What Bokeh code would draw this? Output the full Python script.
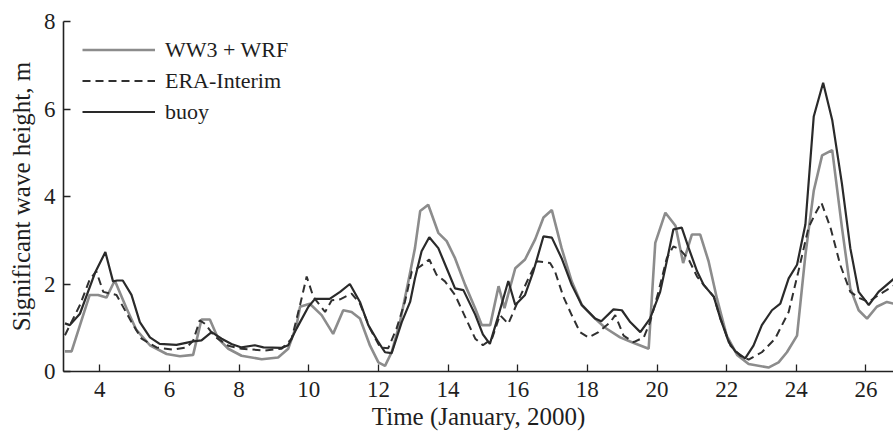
from bokeh.plotting import figure
from bokeh.models import Range1d, FixedTicker, Legend, LegendItem
from bokeh.embed import file_html
from bokeh.resources import INLINE

# ---- data (day of January 2000, significant wave height in m) ----
ww3_day = [3.0, 3.19, 3.71, 3.95, 4.19, 4.43, 4.77, 5.05, 5.44, 5.92, 6.3, 6.68, 6.92, 7.16, 7.4, 7.69,
           8.07, 8.65, 9.12, 9.41, 9.65, 9.75, 10.03, 10.37, 10.7, 10.99, 11.23, 11.47, 11.76, 12.0,
           12.19, 12.38, 12.62, 12.86, 13.05, 13.2, 13.43, 13.72, 13.96, 14.2, 14.49, 14.78, 14.97,
           15.21, 15.45, 15.62, 15.93, 16.21, 16.5, 16.74, 16.98, 17.26, 17.55, 17.84, 18.22, 18.51,
           18.94, 19.28, 19.76, 19.95, 20.24, 20.53, 20.75, 21.0, 21.24, 21.48, 21.72, 22.0, 22.3,
           22.63, 23.2, 23.49, 23.73, 24.02, 24.26, 24.5, 24.74, 25.03, 25.31, 25.55, 25.79, 26.03,
           26.31, 26.6, 26.8]
ww3_hs = [0.46, 0.46, 1.75, 1.75, 1.69, 2.08, 1.44, 0.95, 0.6, 0.4, 0.35, 0.38, 1.19, 1.19, 0.75, 0.52,
          0.36, 0.28, 0.32, 0.52, 1.06, 1.48, 1.55, 1.29, 0.86, 1.4, 1.36, 1.21, 0.59, 0.21,
          0.13, 0.44, 1.13, 2.06, 2.82, 3.67, 3.81, 3.17, 2.98, 2.59, 1.98, 1.44, 1.06,
          1.06, 1.95, 1.45, 2.36, 2.56, 3.02, 3.52, 3.69, 2.82, 2.06, 1.52, 1.21, 1.0,
          0.78, 0.67, 0.52, 2.94, 3.63, 3.33, 2.48, 3.13, 3.13, 2.52, 1.67, 0.82, 0.38,
          0.17, 0.09, 0.21, 0.44, 0.82, 2.66, 4.13, 4.94, 5.06, 3.29, 1.9, 1.4, 1.21,
          1.48, 1.59, 1.55]

era_day = [3.0, 3.43, 3.71, 3.9, 4.1, 4.48, 4.91, 5.2, 5.63, 6.1, 6.49, 6.68, 6.87, 7.02, 7.3, 7.69,
           8.07, 8.74, 9.22, 9.51, 9.75, 9.94, 10.13, 10.47, 10.66, 10.9, 11.23, 11.47, 11.76, 12.05,
           12.28, 12.52, 12.76, 12.96, 13.2, 13.46, 13.67, 13.91, 14.2, 14.49, 14.78, 15.0, 15.26,
           15.49, 15.73, 16.02, 16.31, 16.55, 16.93, 17.07, 17.31, 17.55, 17.79, 18.03, 18.32, 18.66,
           18.8, 19.04, 19.33, 19.62, 19.8, 20.04, 20.28, 20.47, 20.66, 20.91, 21.15, 21.34, 21.63,
           21.82, 22.11, 22.39, 22.63, 23.01, 23.39, 23.78, 24.06, 24.35, 24.54, 24.72, 24.98, 25.26,
           25.55, 25.83, 26.08, 26.36, 26.8]
era_hs = [0.83, 1.52, 2.1, 2.29, 1.82, 1.75, 1.13, 0.75, 0.55, 0.5, 0.55, 0.7, 1.17, 1.09, 0.8, 0.59,
          0.52, 0.48, 0.52, 0.75, 1.52, 2.17, 1.71, 1.36, 1.63, 1.65, 1.78, 1.55, 0.98, 0.55,
          0.53, 0.98, 1.59, 2.29, 2.4, 2.56, 2.21, 2.06, 1.75, 1.25, 0.75, 0.6, 0.75,
          1.29, 1.09, 1.63, 2.13, 2.52, 2.48, 2.29, 1.71, 1.29, 0.9, 0.78, 0.9, 1.13,
          1.29, 0.82, 0.67, 0.78, 1.13, 1.82, 2.59, 2.86, 2.79, 2.56, 2.17, 1.98, 1.71,
          1.21, 0.59, 0.36, 0.27, 0.44, 0.75, 1.36, 2.29, 3.29, 3.6, 3.86, 3.29, 2.44,
          1.82, 1.67, 1.59, 1.75, 1.96]

buoy_day = [3.0, 3.14, 3.43, 3.86, 4.16, 4.38, 4.5, 4.66, 4.91, 5.15, 5.44, 5.72, 6.2, 6.68, 6.92, 7.21,
            7.5, 7.78, 8.07, 8.45, 8.7, 9.22, 9.41, 9.65, 9.99, 10.18, 10.6, 10.9, 11.18, 11.47,
            11.71, 12.0, 12.19, 12.38, 12.67, 12.91, 13.05, 13.24, 13.46, 13.72, 13.96, 14.2, 14.44,
            14.78, 15.0, 15.2, 15.45, 15.73, 15.93, 16.21, 16.45, 16.74, 16.98, 17.26, 17.55, 17.84,
            18.22, 18.4, 18.75, 18.99, 19.23, 19.52, 19.8, 20.09, 20.28, 20.47, 20.71, 20.91, 21.15,
            21.34, 21.63, 21.82, 22.06, 22.25, 22.53, 22.77, 23.01, 23.3, 23.54, 23.78, 24.02, 24.26,
            24.5, 24.77, 25.03, 25.31, 25.55, 25.79, 26.08, 26.36, 26.8]
buoy_hs = [1.1, 1.06, 1.32, 2.25, 2.73, 2.06, 2.08, 2.08, 1.75, 1.13, 0.78, 0.63, 0.61, 0.69, 0.71, 0.9,
           0.75, 0.63, 0.55, 0.6, 0.55, 0.54, 0.6, 0.98, 1.48, 1.66, 1.66, 1.82, 2.0, 1.59,
           1.06, 0.67, 0.44, 0.42, 1.13, 1.59, 2.13, 2.75, 3.07, 2.82, 2.36, 1.9, 1.86,
           1.3, 0.85, 0.63, 1.29, 2.07, 1.52, 1.75, 2.29, 3.09, 3.06, 2.59, 1.98, 1.52,
           1.21, 1.15, 1.42, 1.4, 1.13, 0.9, 1.21, 1.82, 2.52, 3.25, 3.29, 2.82, 2.29,
           1.98, 1.71, 1.21, 0.67, 0.46, 0.3, 0.59, 1.06, 1.4, 1.55, 2.13, 2.44, 3.36,
           5.83, 6.6, 5.75, 4.29, 2.82, 1.82, 1.52, 1.82, 2.12]

x_ticks = [4, 6, 8, 10, 12, 14, 16, 18, 20, 22, 24, 26]
y_ticks = [0, 2, 4, 6, 8]
labels = ["WW3 + WRF", "ERA-Interim", "buoy"]

FONT = "Liberation Serif"
AX = "#222222"
TXT = "#1e1e1e"

p = figure(width=893, height=432, output_backend="svg", toolbar_location=None,
           x_range=Range1d(2.958, 26.79), y_range=Range1d(0, 8),
           min_border_left=63, min_border_right=0, min_border_top=21, min_border_bottom=61)
p.outline_line_color = None
p.xgrid.visible = False
p.ygrid.visible = False
p.background_fill_color = "white"
p.border_fill_color = "white"

l1 = p.line(ww3_day, ww3_hs, line_color="#8c8c8c", line_width=2.6)
l2 = p.line(era_day, era_hs, line_color="#303030", line_width=2.0, line_dash="8 5")
l3 = p.line(buoy_day, buoy_hs, line_color="#2a2a2a", line_width=2.2)

for ax in (p.xaxis[0], p.yaxis[0]):
    ax.axis_line_color = AX
    ax.axis_line_width = 1.6
    ax.major_tick_line_color = AX
    ax.major_tick_line_width = 1.3
    ax.major_tick_in = 7
    ax.major_tick_out = 0
    ax.minor_tick_line_color = None
    ax.major_label_text_font = FONT
    ax.major_label_text_font_size = "23px"
    ax.major_label_text_color = TXT
    ax.axis_label_text_font = FONT
    ax.axis_label_text_font_size = "25px"
    ax.axis_label_text_font_style = "normal"
    ax.axis_label_text_color = TXT

p.xaxis.ticker = FixedTicker(ticks=x_ticks)
p.yaxis.ticker = FixedTicker(ticks=y_ticks)
p.xaxis.major_label_standoff = 10
p.yaxis.major_label_standoff = 8
p.xaxis.axis_label = "Time (January, 2000)"
p.yaxis.axis_label = "Significant wave height, m"
p.xaxis.axis_label_standoff = 3
p.yaxis.axis_label_standoff = 6

legend = Legend(items=[LegendItem(label=labels[0], renderers=[l1]),
                       LegendItem(label=labels[1], renderers=[l2]),
                       LegendItem(label=labels[2], renderers=[l3])],
                location=(19, 244))
legend.border_line_color = None
legend.background_fill_alpha = 0
legend.label_text_font = FONT
legend.label_text_font_size = "22px"
legend.label_text_color = TXT
legend.glyph_width = 73
legend.glyph_height = 31
legend.label_height = 31
legend.label_standoff = 10
legend.spacing = 0
legend.margin = 0
legend.padding = 0
p.add_layout(legend)

open("out.html", "w").write(file_html(p, INLINE))
